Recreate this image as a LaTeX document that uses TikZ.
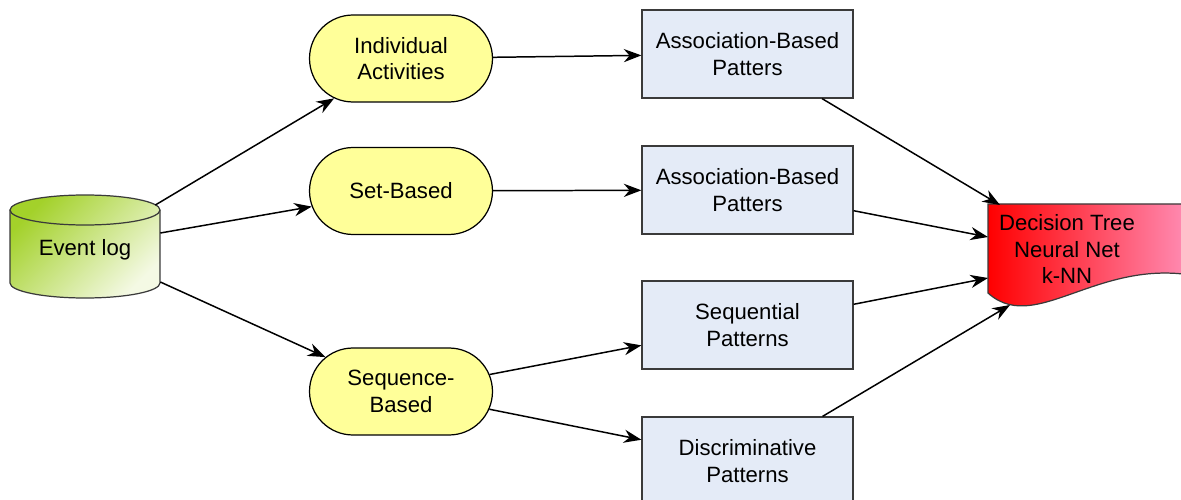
\documentclass[tikz,border=0pt]{standalone}
\usepackage{fontspec}
\setmainfont{Liberation Sans}
\usetikzlibrary{shapes.misc,arrows.meta}
\definecolor{pillfill}{HTML}{FFFF99}
\definecolor{boxfill}{HTML}{E4EBF7}
\definecolor{logdark}{HTML}{A3D12A}
\definecolor{loglight}{HTML}{F4F9E4}
\definecolor{docpink}{HTML}{FFA8D8}
\definecolor{edge}{HTML}{3A3A3A}
\begin{document}
\begin{tikzpicture}[x=0.02cm,y=-0.02cm,
  every node/.style={font=\fontsize{12.6}{15.2}\selectfont, align=center},
  pill/.style={rounded rectangle, draw=black, line width=0.7pt, fill=pillfill,
    minimum width=3.66cm, minimum height=1.74cm, inner sep=0pt},
  patbox/.style={rectangle, draw=edge, line width=0.7pt, fill=boxfill,
    minimum width=4.22cm, minimum height=1.76cm, inner sep=0pt},
  link/.style={draw=black, line width=0.85pt, -{Stealth[length=10pt,width=7.5pt]}},
  outline/.style={draw=edge, line width=0.7pt}
]
\useasboundingbox (0,0) rectangle (1181,500);
\clip (0,0) rectangle (1181,500);

% event log cylinder
\shade[outline, top color=logdark, bottom color=loglight, shading angle=45]
  (10,210) -- (10,283) arc[start angle=180, end angle=360, x radius=1.5cm, y radius=0.3cm]
  -- (160,210) arc[start angle=0, end angle=180, x radius=1.5cm, y radius=0.3cm] -- cycle;
\draw[outline] (10,210) arc[start angle=180, end angle=360, x radius=1.5cm, y radius=0.3cm];
\node[minimum width=3cm, minimum height=1.8cm, inner sep=0pt] (log) at (85,249.5) {Event log};

% classifier document
\shade[outline, left color=red, right color=docpink]
  (988,204) -- (1228,204) -- (1228,285)
  .. controls (1110,240) and (1040,340) .. (988,293) -- cycle;
\node (doc) at (1067,249) {Decision Tree\\Neural Net\\k-NN};
\coordinate (d1) at (1000,205);
\coordinate (d2) at (988,237);
\coordinate (d3) at (988,278);
\coordinate (d4) at (1010,305);

% activity views
\node[pill] (ind) at (401,58.5) {Individual\\Activities};
\node[pill] (set) at (401,191) {Set-Based};
\node[pill] (seq) at (401,391.5) {Sequence-\\Based};

% pattern boxes
\node[patbox] (r1) at (747.5,54) {Association-Based\\Patters};
\node[patbox] (r2) at (747.5,190) {Association-Based\\Patters};
\node[patbox] (r3) at (747.5,325) {Sequential\\Patterns};
\node[patbox] (r4) at (747.5,461) {Discriminative\\Patterns};

% connectors
\draw[link] ([xshift=-0.1cm,yshift=0.89cm]log.east) -- (ind);
\draw[link] ([yshift=0.33cm]log.east) -- (set);
\draw[link] ([yshift=-0.65cm]log.east) -- (seq);
\draw[link] (ind) -- (r1);
\draw[link] (set) -- (r2);
\draw[link] (seq) -- (r3);
\draw[link] (seq) -- (r4);
\draw[link] (r1) -- (d1);
\draw[link] (r2) -- (d2);
\draw[link] (r3) -- (d3);
\draw[link] (r4) -- (d4);
\end{tikzpicture}
\end{document}
